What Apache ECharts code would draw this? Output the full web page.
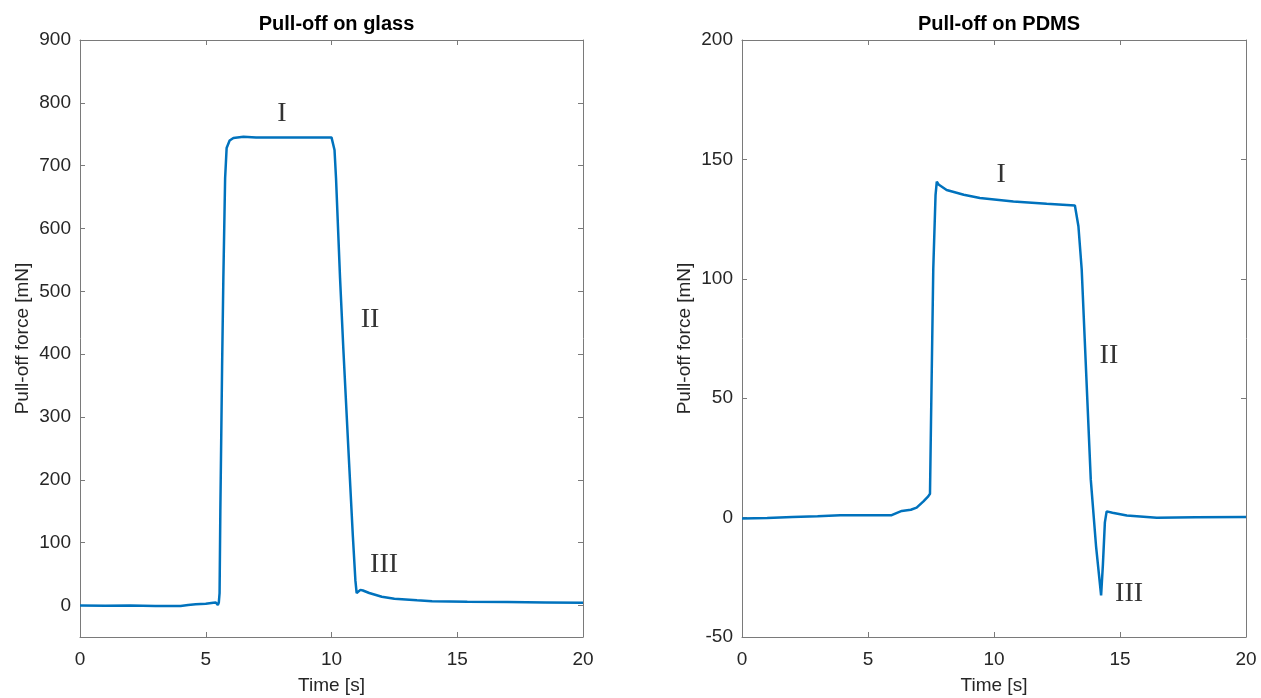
<!DOCTYPE html>
<html>
<head>
<meta charset="utf-8">
<script src="https://cdn.jsdelivr.net/npm/echarts@6/dist/echarts.min.js"></script>
<style>
html,body{margin:0;padding:0;background:#fff;}
#c{width:1261px;height:698px;}
</style>
</head>
<body>
<div id="c"></div>
<script>
// ---- Data: Pull-off on glass ----
const glassTime  = [0, 1, 2, 3, 4, 4.3, 4.6, 5.0, 5.3, 5.4, 5.48, 5.52, 5.55, 5.58, 5.65, 5.7, 5.77, 5.83, 5.95, 6.1, 6.5, 7, 8, 9, 10, 10.07, 10.12, 10.18, 10.34, 10.47, 10.67, 10.85, 10.95, 11.0, 11.05, 11.15, 11.25, 11.5, 12.0, 12.5, 13.4, 14, 15.4, 17, 18.5, 20];
const glassForce = [0, -0.3, 0, -0.5, -0.5, 1, 2, 3, 4.5, 5, 1, 5, 20, 150, 380, 521, 680, 728, 740, 744, 746, 745, 745, 745, 745, 743, 725, 680, 521, 409, 250, 110, 40, 20, 18, 25, 24, 20, 14, 11, 8.5, 7, 6, 5.5, 5, 4.5];

// ---- Data: Pull-off on PDMS ----
const pdmsTime  = [0, 1, 2, 3, 3.9, 5.0, 5.94, 6.15, 6.34, 6.7, 6.93, 7.2, 7.39, 7.46, 7.5, 7.59, 7.68, 7.73, 7.8, 8.12, 8.8, 9.44, 10.77, 12.09, 13.21, 13.28, 13.35, 13.48, 13.84, 14.05, 14.25, 14.32, 14.4, 14.47, 14.7, 15.27, 16.46, 18, 20];
const pdmsForce = [-0.4, -0.2, 0.2, 0.6, 1.0, 1.0, 1.0, 2.0, 2.8, 3.3, 4.2, 6.8, 8.9, 10, 40, 104, 135, 140.7, 139.5, 137.2, 135.2, 133.8, 132.4, 131.4, 130.7, 130, 122, 104, 16, -12, -32.6, -20, -2, 2.6, 2.0, 0.84, -0.1, 0.1, 0.3];

// ---- Annotations (data coordinates) ----
const glassNotes = ['I', 'II', 'III'];
const glassNoteT = [8.03, 11.53, 12.09];
const glassNoteF = [783, 455, 65];
const pdmsNotes = ['I', 'II', 'III'];
const pdmsNoteT = [10.28, 14.56, 15.36];
const pdmsNoteF = [143.5, 67.8, -31.8];

// ---- Axis settings / tick labels ----
const titles = ['Pull-off on glass', 'Pull-off on PDMS'];
const xTicks = [0, 5, 10, 15, 20];
const yTicksGlass = [0, 100, 200, 300, 400, 500, 600, 700, 800, 900];
const yTicksPdms = [-50, 0, 50, 100, 150, 200];
const yRangeGlass = [-50, 900];
const yRangePdms = [-50, 200];
const xName = 'Time [s]';
const yName = 'Pull-off force [mN]';

const zip = (a, b) => a.map((v, i) => [v, b[i]]);

const axisColor = '#7a7a7a';
const labelColor = '#262626';
const lineColor = '#0072BD';
const sans = 'Liberation Sans';

function xAxes(gi) {
  const base = {
    gridIndex: gi, type: 'value', min: xTicks[0], max: xTicks[xTicks.length - 1], interval: 5,
    axisLine: { show: true, onZero: false, lineStyle: { color: axisColor, width: 1 } },
    axisTick: { show: true, inside: true, length: 5, lineStyle: { color: axisColor }, customValues: xTicks },
    splitLine: { show: false }
  };
  return [
    Object.assign({}, base, {
      position: 'bottom',
      name: xName, nameLocation: 'middle', nameGap: 39,
      nameTextStyle: { fontFamily: sans, fontSize: 19, color: labelColor },
      axisLabel: { fontFamily: sans, fontSize: 19, color: labelColor, margin: 13, customValues: xTicks }
    }),
    Object.assign({}, base, { position: 'top', axisLabel: { show: false } })
  ];
}
function yAxes(gi, r, ticks) {
  const base = {
    gridIndex: gi, type: 'value', min: r[0], max: r[1], interval: 50,
    axisLine: { show: true, onZero: false, lineStyle: { color: axisColor, width: 1 } },
    axisTick: { show: true, inside: true, length: 5, lineStyle: { color: axisColor }, customValues: ticks },
    splitLine: { show: false }
  };
  return [
    Object.assign({}, base, {
      position: 'left',
      name: yName, nameLocation: 'middle', nameGap: 48, nameRotate: 90,
      nameTextStyle: { fontFamily: sans, fontSize: 19, color: labelColor },
      axisLabel: { fontFamily: sans, fontSize: 19, color: labelColor, margin: 9, customValues: ticks }
    }),
    Object.assign({}, base, { position: 'right', axisLabel: { show: false } })
  ];
}

function noteSeries(xi, yi, names, ts, fs) {
  return {
    type: 'scatter', xAxisIndex: xi, yAxisIndex: yi,
    symbolSize: 1, itemStyle: { color: 'rgba(0,0,0,0)' },
    silent: true,
    data: names.map((n, i) => ({ name: n, value: [ts[i], fs[i]] })),
    label: {
      show: true, position: 'inside', formatter: p => p.name,
      fontFamily: 'Liberation Serif', fontSize: 28, color: '#000'
    },
    z: 5
  };
}

const chart = echarts.init(document.getElementById('c'));
chart.setOption({
  animation: false,
  backgroundColor: '#fff',
  title: [
    { text: titles[0], left: 331.5, top: 9, textAlign: 'center',
      textStyle: { fontFamily: sans, fontSize: 20, fontWeight: 'bold', color: '#000' } },
    { text: titles[1], left: 994, top: 9, textAlign: 'center',
      textStyle: { fontFamily: sans, fontSize: 20, fontWeight: 'bold', color: '#000' } }
  ],
  grid: [
    { left: 80, top: 40, width: 503, height: 597, containLabel: false, outerBoundsMode: 'none' },
    { left: 742, top: 40, width: 504, height: 597, containLabel: false, outerBoundsMode: 'none' }
  ],
  xAxis: [...xAxes(0), ...xAxes(1)],
  yAxis: [...yAxes(0, yRangeGlass, yTicksGlass), ...yAxes(1, yRangePdms, yTicksPdms)],
  series: [
    {
      type: 'line', xAxisIndex: 0, yAxisIndex: 0, data: zip(glassTime, glassForce),
      showSymbol: false, lineStyle: { color: lineColor, width: 2.5 }, itemStyle: { color: lineColor }
    },
    {
      type: 'line', xAxisIndex: 2, yAxisIndex: 2, data: zip(pdmsTime, pdmsForce),
      showSymbol: false, lineStyle: { color: lineColor, width: 2.5 }, itemStyle: { color: lineColor }
    },
    noteSeries(0, 0, glassNotes, glassNoteT, glassNoteF),
    noteSeries(2, 2, pdmsNotes, pdmsNoteT, pdmsNoteF)
  ]
});
</script>
</body>
</html>
